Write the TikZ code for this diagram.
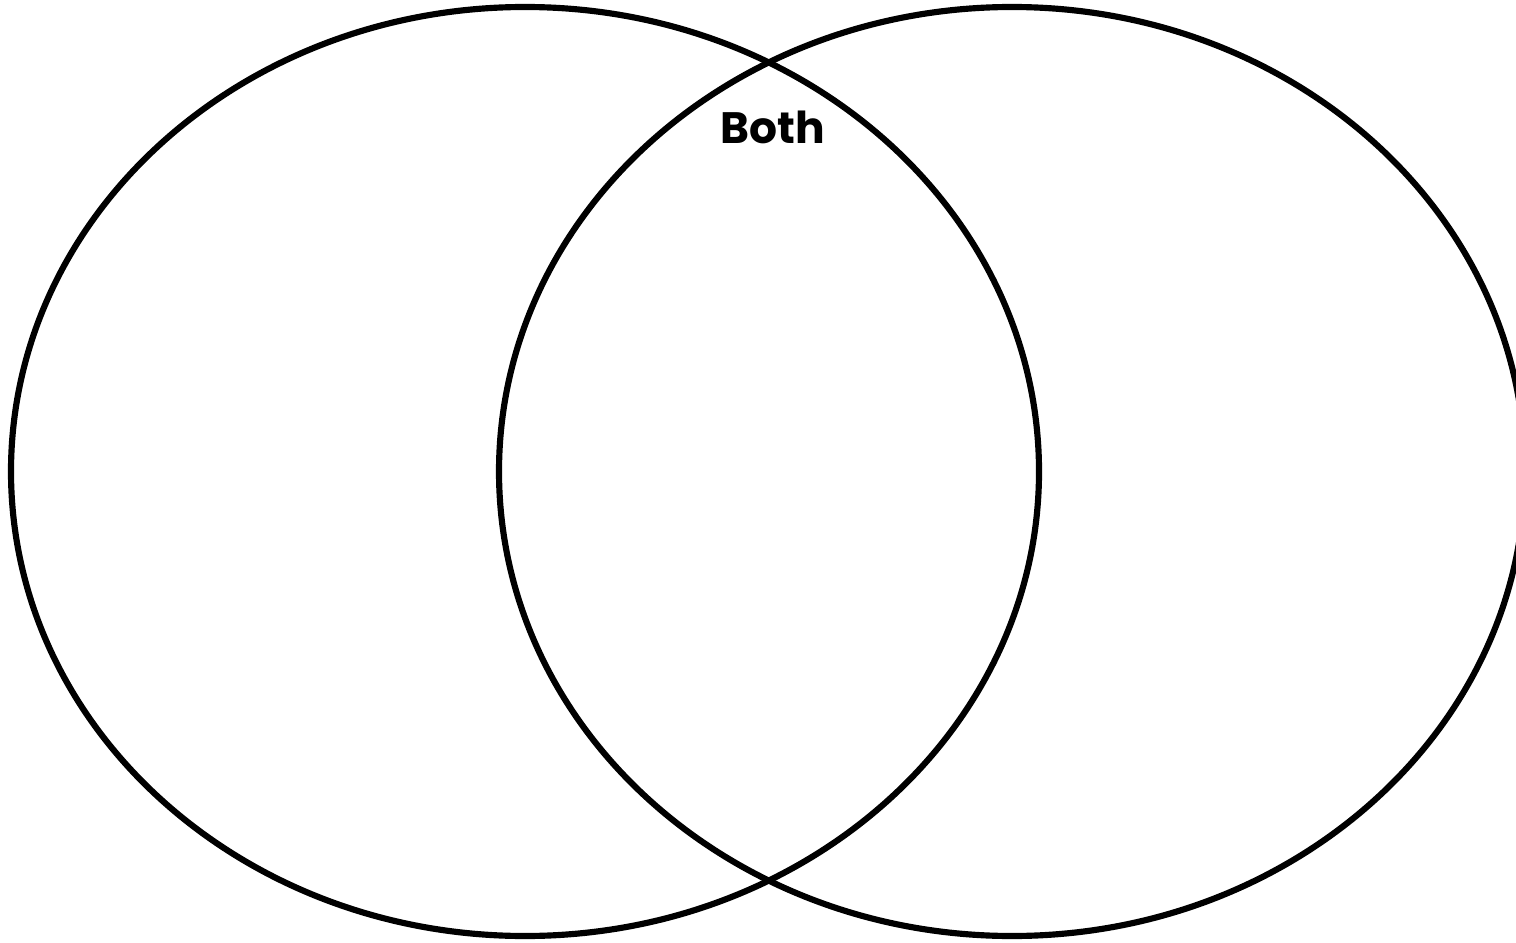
\documentclass[tikz,border=0pt]{standalone}
\usepackage{fontspec}
\newfontfamily\labelfont{Poppins}
\begin{document}
\begin{tikzpicture}[x=0.01cm,y=-0.01cm,
  vennline/.style={draw=black,line width=1.75pt},
  label/.style={font=\labelfont\bfseries\fontsize{12.5}{15}\selectfont,inner sep=0pt}]
\useasboundingbox (0,0) rectangle (1516,943);
\draw[vennline] (525,471.5) ellipse [x radius=514,y radius=464.5];
\draw[vennline] (1012,471.5) ellipse [x radius=513,y radius=464.5];
\node[label] (both) at (773,127) {Both};
\end{tikzpicture}
\end{document}
